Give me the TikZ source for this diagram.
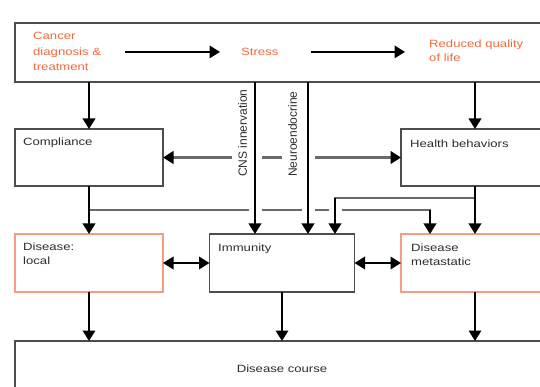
\documentclass[tikz,border=0pt]{standalone}
\usepackage{fontspec}
\setmainfont{Liberation Sans}[FakeStretch=1.25]
\newfontfamily\rotfont{Liberation Sans}
\usetikzlibrary{arrows.meta}

\definecolor{boxgray}{HTML}{4D4D4D}
\definecolor{orangetxt}{HTML}{F26A3C}
\definecolor{orangebox}{HTML}{F79C80}
\definecolor{linkgray}{HTML}{6A6A6A}
\definecolor{inkgray}{HTML}{2E2E2E}

\tikzset{
  box/.style={draw=boxgray, line width=1.7pt, fill=white, inner sep=0pt, outer sep=0pt, anchor=north west},
  redbox/.style={box, draw=orangebox},
  txt/.style={inner sep=0pt, anchor=north west, align=left, text=inkgray, font=\fontsize{10.5}{14}\selectfont},
  redtxt/.style={txt, text=orangetxt},
  arr/.style={draw=black, line width=1.9pt, -{Triangle[width=12.5pt, length=10.5pt]}},
  dblarr/.style={draw=black, line width=1.9pt, {Triangle[width=12.5pt, length=10.5pt]}-{Triangle[width=12.5pt, length=10.5pt]}},
  link/.style={draw=linkgray, line width=2.6pt},
  halo/.style={preaction={draw=white, arrows=-, line width=13pt, shorten <=#1, shorten >=3pt}},
  vlabel/.style={rotate=90, anchor=west, fill=white, inner xsep=2pt, inner ysep=6pt, text=inkgray,
    font=\rotfont\fontsize{12}{12}\selectfont}
}

\begin{document}
\begin{tikzpicture}[x=1pt, y=-1pt]
  \useasboundingbox (0,0) rectangle (540,387);
  \clip (0,0) rectangle (540,387);

  % boxes
  \node[box, minimum width=534pt, minimum height=59pt] (top) at (15,23) {};
  \node[box, minimum width=148pt, minimum height=57pt] (comp) at (15,129) {};
  \node[box, minimum width=148pt, minimum height=57pt] (health) at (401,129) {};
  \node[redbox, minimum width=148pt, minimum height=58pt] (local) at (15,234) {};
  \node[box, minimum width=145pt, minimum height=58pt] (imm) at (209.5,234) {};
  \node[redbox, minimum width=148pt, minimum height=58pt] (meta) at (401,234) {};
  \node[box, minimum width=534pt, minimum height=80pt] (course) at (15,341) {};

  % texts
  \node[redtxt, font=\fontsize{10.5}{15.5}\selectfont] (cancer) at (33,32) {Cancer\\diagnosis \&\\treatment};
  \node[redtxt] (stress) at (241,48) {Stress};
  \node[redtxt] (rql) at (429,40) {Reduced quality\\of life};
  \node[txt] (tcomp) at (23,138) {Compliance};
  \node[txt] (thealth) at (410,140) {Health behaviors};
  \node[txt] (tlocal) at (23,243) {Disease:\\local};
  \node[txt] (timm) at (218,244) {Immunity};
  \node[txt] (tmeta) at (411,244) {Disease\\metastatic};
  \node[txt, anchor=north] (tcourse) at (282,365) {Disease course};

  % arrows inside the top band, level with "Stress"
  \path (cancer.east) ++(24,0) coordinate (c1);
  \path (stress.west) ++(-21,0) coordinate (s1);
  \path (stress.east) ++(32,0) coordinate (s2);
  \path (rql.west) ++(-24,0) coordinate (r1);
  \draw[arr] (c1 |- stress.west) -- (s1);
  \draw[arr] (s2) -- (r1 |- stress.east);

  % from the top band down to the behaviour boxes
  \draw[arr] (top.south -| comp.north) -- (comp.north);
  \draw[arr] (top.south -| health.north) -- (health.north);

  % stress acting on compliance and health behaviors
  \draw[link, {Triangle[width=12.5pt, length=10.5pt, color=black]}-{Triangle[width=12.5pt, length=10.5pt, color=black]}]
    (comp.east) -- (health.west);

  % compliance to local and metastatic disease
  \path (comp.south) ++(0,24) coordinate (cj);
  \path (meta.north) ++(-45,0) coordinate (mtop);
  \draw[link, line cap=rect] (cj) -- (cj -| mtop);
  \draw[arr] (comp.south) -- (local.north);
  \draw[arr] (cj -| mtop) -- (mtop);

  % health behaviors to immunity and metastatic disease
  \path (health.south) ++(0,12) coordinate (hj);
  \path (imm.north) ++(53,0) coordinate (itop);
  \draw[link, line cap=rect] (hj) -- (hj -| itop);
  \draw[arr] (health.south) -- (meta.north);
  \draw[arr, halo=7pt] (hj -| itop) -- (itop);

  % CNS and neuroendocrine pathways from stress to immunity
  \path (top.south) ++(-27,0) coordinate (cns);
  \path (top.south) ++(26,0) coordinate (neu);
  \draw[arr, halo=1pt] (cns) -- (cns |- imm.north);
  \draw[arr, halo=1pt] (neu) -- (neu |- imm.north);
  \node[vlabel] (lcns) at (242.5,179) {CNS innervation};
  \node[vlabel] (lneu) at (292.5,179) {Neuroendocrine};

  % disease and immunity interplay
  \draw[dblarr] (local.east) -- (imm.west);
  \draw[dblarr] (imm.east) -- (meta.west);

  % to disease course
  \draw[arr] (local.south) -- (local.south |- course.north);
  \draw[arr] (imm.south) -- (imm.south |- course.north);
  \draw[arr] (meta.south) -- (meta.south |- course.north);
\end{tikzpicture}
\end{document}
